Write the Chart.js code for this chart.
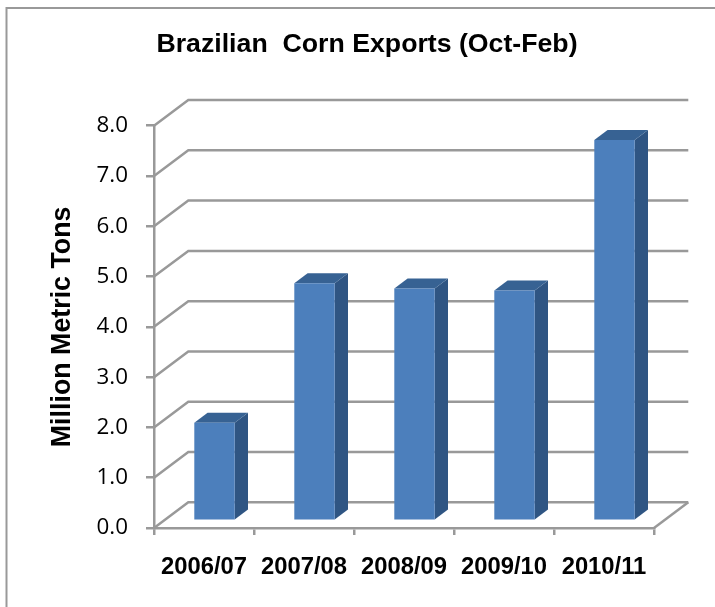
<!DOCTYPE html>
<html><head><meta charset="utf-8">
<style>html,body{margin:0;padding:0;background:#fff}canvas{display:block}</style>
<script src="https://cdn.jsdelivr.net/npm/chart.js@4"></script>
</head><body><div style="width:715px;height:607px"><canvas id="c" width="715" height="607"></canvas></div>
<script>
const categories = ["2006/07","2007/08","2008/09","2009/10","2010/11"];
const exportsMmt = [1.95,4.72,4.62,4.58,7.57];
const titleText = "Brazilian  Corn Exports (Oct-Feb)";
const yAxisTitle = "Million Metric Tons";
const GRAY = "#999999";
const wall = {dx:34.3, dy:25.7};
const bar = {shiftX:10.5, shiftY:-7.3, dx:13.3, dy:10};
const threeD = {
  id:"threeD",
  beforeDraw(chart){
    const c = chart.ctx;
    c.save(); c.strokeStyle = GRAY; c.lineWidth = 2;
    c.beginPath(); c.moveTo(715,8); c.lineTo(6.5,8); c.lineTo(6.5,607); c.stroke();
    c.restore();
  },
  beforeDatasetsDraw(chart){
    const c = chart.ctx, x = chart.scales.x, y = chart.scales.y;
    c.save(); c.strokeStyle = GRAY; c.lineWidth = 2.5; c.lineJoin = "miter";
    y.ticks.forEach(t => {
      const py = y.getPixelForValue(t.value);
      c.beginPath(); c.moveTo(x.left,py); c.lineTo(x.left+wall.dx,py-wall.dy); c.lineTo(x.right+wall.dx,py-wall.dy); c.stroke();
    });
    c.beginPath(); c.moveTo(x.right,y.bottom); c.lineTo(x.right+wall.dx,y.bottom-wall.dy); c.stroke();
    c.restore();
  },
  beforeDatasetDraw(chart){
    const c = chart.ctx;
    chart.getDatasetMeta(0).data.forEach(el => {
      const L = el.x-el.width/2+bar.shiftX, R = el.x+el.width/2+bar.shiftX;
      const T = el.y+bar.shiftY, B = el.base+bar.shiftY;
      c.fillStyle = "#2f5583";
      c.beginPath(); c.moveTo(R,T); c.lineTo(R+bar.dx,T-bar.dy); c.lineTo(R+bar.dx,B-bar.dy); c.lineTo(R,B); c.closePath(); c.fill();
      c.fillStyle = "#376293";
      c.beginPath(); c.moveTo(L,T); c.lineTo(L+bar.dx,T-bar.dy); c.lineTo(R+bar.dx,T-bar.dy); c.lineTo(R,T); c.closePath(); c.fill();
    });
    c.save(); c.translate(bar.shiftX,bar.shiftY);
  },
  afterDatasetDraw(chart){ chart.ctx.restore(); }
};
new Chart(document.getElementById("c"),{
  type:"bar",
  data:{labels:categories,datasets:[{data:exportsMmt,backgroundColor:"#4c7fbc",borderWidth:0,categoryPercentage:1,barPercentage:0.404,clip:false}]},
  plugins:[threeD],
  options:{
    responsive:false,animation:false,devicePixelRatio:1,
    layout:{padding:{left:19,right:0,top:0,bottom:0}},
    plugins:{
      legend:{display:false},tooltip:{enabled:false},
      title:{display:true,text:titleText,color:"#000",font:{family:"Liberation Sans",size:26.7,weight:"bold",lineHeight:1.2},padding:{top:29,bottom:64.7}}
    },
    scales:{
      x:{
        afterFit(s){s.height=79;},
        grid:{offset:true,drawOnChartArea:false,drawTicks:true,tickLength:7,color:GRAY,lineWidth:2.5},
        border:{color:GRAY,width:2.5},
        ticks:{color:"#000",font:{family:"Liberation Sans",size:23.8,weight:"bold"},padding:18,maxRotation:0,autoSkip:false}
      },
      y:{
        min:0,max:8,
        afterFit(s){s.width=135;},
        grid:{drawOnChartArea:false,drawTicks:true,tickLength:8,color:GRAY,lineWidth:2.5},
        border:{color:GRAY,width:2.5},
        ticks:{stepSize:1,color:"#000",font:{family:"Open Sans",size:22.4},padding:18,callback:v=>v.toFixed(1)},
        title:{display:true,text:yAxisTitle,color:"#000",font:{family:"Liberation Sans",size:26.8,weight:"bold"},padding:{top:28,bottom:0}}
      },
      y2:{
        position:"right",min:0,max:8,
        afterFit(s){s.width=61;},
        grid:{display:false},border:{display:false},ticks:{display:false}
      }
    }
  }
});
</script></body></html>
